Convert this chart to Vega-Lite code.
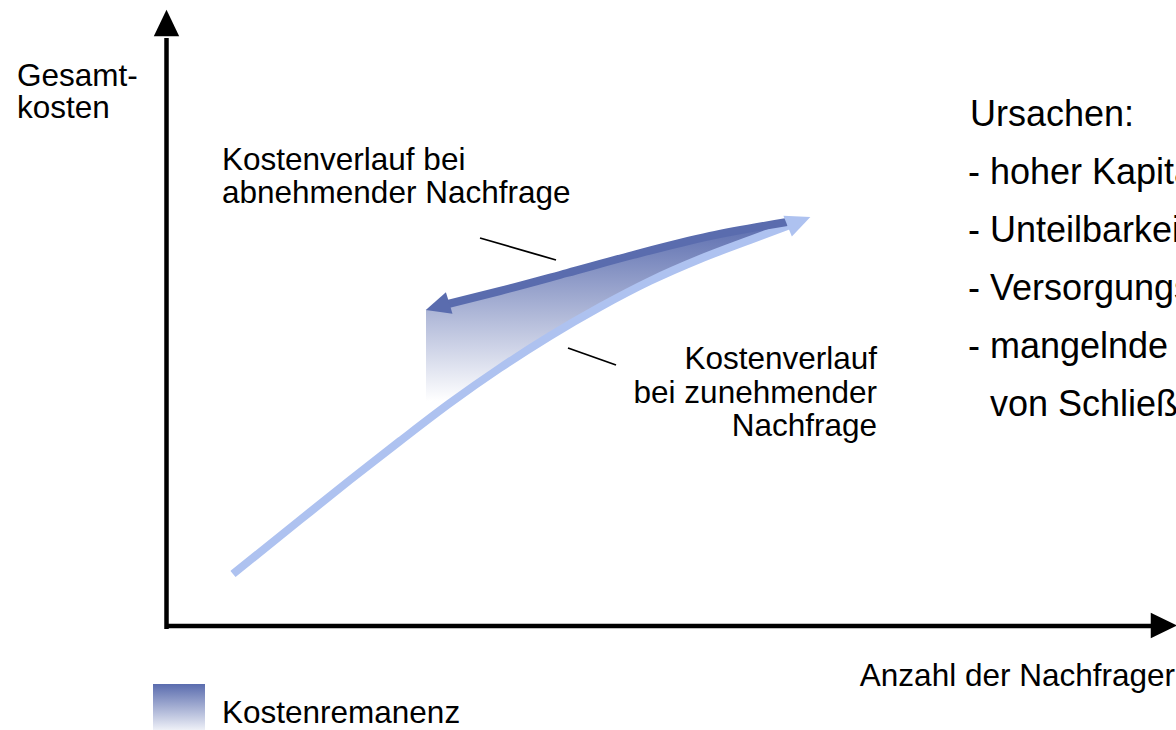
{
  "$schema": "https://vega.github.io/schema/vega-lite/v6.json",
  "width": 1176,
  "height": 730,
  "autosize": {"type": "fit", "contains": "padding"},
  "padding": 0,
  "background": "white",
  "config": {"view": {"stroke": null}},
  "datasets": {
    "remanenz": [
      {"q": 25.9, "oben": 31.6, "unten": 20.5},
      {"q": 28.3, "oben": 32.4, "unten": 22.3},
      {"q": 33.3, "oben": 33.4, "unten": 25.8},
      {"q": 38.3, "oben": 34.8, "unten": 29.0},
      {"q": 43.3, "oben": 36.3, "unten": 31.9},
      {"q": 48.3, "oben": 37.7, "unten": 34.5},
      {"q": 53.3, "oben": 38.9, "unten": 36.7},
      {"q": 58.3, "oben": 39.8, "unten": 38.6},
      {"q": 62.0, "oben": 40.4, "unten": 40.0}
    ],
    "kurven": [
      {"verlauf": "zunehmend", "q": 6.6, "k": 5.2},
      {"verlauf": "zunehmend", "q": 13.3, "k": 10.6},
      {"verlauf": "zunehmend", "q": 18.3, "k": 14.6},
      {"verlauf": "zunehmend", "q": 23.3, "k": 18.5},
      {"verlauf": "zunehmend", "q": 28.3, "k": 22.3},
      {"verlauf": "zunehmend", "q": 33.3, "k": 25.8},
      {"verlauf": "zunehmend", "q": 38.3, "k": 29.0},
      {"verlauf": "zunehmend", "q": 43.3, "k": 31.9},
      {"verlauf": "zunehmend", "q": 48.3, "k": 34.5},
      {"verlauf": "zunehmend", "q": 53.3, "k": 36.7},
      {"verlauf": "zunehmend", "q": 58.3, "k": 38.6},
      {"verlauf": "zunehmend", "q": 62.3, "k": 40.1},
      {"verlauf": "abnehmend", "q": 28.1, "k": 32.2},
      {"verlauf": "abnehmend", "q": 33.3, "k": 33.5},
      {"verlauf": "abnehmend", "q": 40.0, "k": 35.3},
      {"verlauf": "abnehmend", "q": 46.6, "k": 37.1},
      {"verlauf": "abnehmend", "q": 54.3, "k": 39.0},
      {"verlauf": "abnehmend", "q": 62.0, "k": 40.4}
    ],
    "spitzen": [
      {"verlauf": "zunehmend", "q": 63.2, "k": 40.45, "winkel": 68},
      {"verlauf": "abnehmend", "q": 27.05, "k": 31.95, "winkel": 253}
    ],
    "achsen": [
      {"achse": "K", "q": -0.05, "k": -0.3},
      {"achse": "K", "q": -0.05, "k": 58.8},
      {"achse": "N", "q": -0.2, "k": 0},
      {"achse": "N", "q": 98.8, "k": 0}
    ],
    "achsenspitzen": [
      {"achse": "K", "q": -0.05, "k": 60.3, "winkel": 0},
      {"achse": "N", "q": 99.7, "k": 0.05, "winkel": 90}
    ],
    "hinweise": [
      {"id": 1, "q": 31.3, "k": 38.8},
      {"id": 1, "q": 38.9, "k": 36.6},
      {"id": 2, "q": 40.1, "k": 27.8},
      {"id": 2, "q": 44.9, "k": 26.1}
    ],
    "legende": [
      {"q": -1.4, "q2": 3.8, "k": -5.8, "k2": -10.4}
    ],
    "texte_links": [
      {"text": "Gesamt-", "q": -15.0, "k": 54.0},
      {"text": "kosten", "q": -15.0, "k": 50.8},
      {"text": "Kostenverlauf bei", "q": 5.5, "k": 45.6},
      {"text": "abnehmender Nachfrage", "q": 5.5, "k": 42.3},
      {"text": "Kostenremanenz", "q": 5.5, "k": -9.7}
    ],
    "ursachen": [
      {"text": "Ursachen:", "q": 80.3, "k": 50.0},
      {"text": "- hoher Kapitalbedarf", "q": 80.1, "k": 44.2},
      {"text": "- Unteilbarkeit", "q": 80.1, "k": 38.4},
      {"text": "- Versorgungspflicht", "q": 80.1, "k": 32.6},
      {"text": "- mangelnde Möglichkeit", "q": 80.1, "k": 26.8},
      {"text": "von Schließung", "q": 82.3, "k": 21.0}
    ],
    "texte_rechts": [
      {"text": "Kostenverlauf", "q": 71.0, "k": 25.7},
      {"text": "bei zunehmender", "q": 71.0, "k": 22.3},
      {"text": "Nachfrage", "q": 71.0, "k": 19.0},
      {"text": "Anzahl der Nachfrager", "q": 100.8, "k": -6.0}
    ]
  },
  "encoding": {
    "x": {"field": "q", "type": "quantitative", "axis": null, "scale": {"domain": [-16.7, 100.9], "nice": false, "zero": false}},
    "y": {"field": "k", "type": "quantitative", "axis": null, "scale": {"domain": [-10.4, 62.6], "nice": false, "zero": false}}
  },
  "layer": [
    {
      "data": {"name": "remanenz"},
      "mark": {"type": "area", "interpolate": "monotone", "clip": true,
        "fill": {"gradient": "linear", "x1": 0, "y1": 0, "x2": 0, "y2": 1,
          "stops": [{"offset": 0, "color": "#5a6cae"}, {"offset": 0.9, "color": "#ffffff"}, {"offset": 1, "color": "#ffffff"}]}},
      "encoding": {
        "y": {"field": "oben", "type": "quantitative"},
        "y2": {"field": "unten"}
      }
    },
    {
      "data": {"name": "legende"},
      "mark": {"type": "rect", "clip": true,
        "fill": {"gradient": "linear", "x1": 0, "y1": 0, "x2": 0, "y2": 1,
          "stops": [{"offset": 0, "color": "#5a6cae"}, {"offset": 1, "color": "#eef0f7"}]}},
      "encoding": {
        "x2": {"field": "q2"},
        "y2": {"field": "k2"}
      }
    },
    {
      "data": {"name": "kurven"},
      "mark": {"type": "line", "interpolate": "monotone", "strokeWidth": 8, "clip": true},
      "encoding": {
        "color": {"field": "verlauf", "type": "nominal", "legend": null,
          "scale": {"domain": ["abnehmend", "zunehmend"], "range": ["#5a6cae", "#aec2f0"]}}
      }
    },
    {
      "data": {"name": "spitzen"},
      "mark": {"type": "point", "filled": true, "opacity": 1, "clip": true,
        "shape": "M0,-1L0.92,1L-0.92,1Z", "size": 600},
      "encoding": {
        "color": {"field": "verlauf", "type": "nominal", "legend": null,
          "scale": {"domain": ["abnehmend", "zunehmend"], "range": ["#5a6cae", "#aec2f0"]}},
        "angle": {"field": "winkel", "type": "quantitative", "scale": null}
      }
    },
    {
      "data": {"name": "achsen"},
      "mark": {"type": "line", "color": "black", "strokeWidth": 4.5, "clip": true},
      "encoding": {"detail": {"field": "achse", "type": "nominal"}}
    },
    {
      "data": {"name": "achsenspitzen"},
      "mark": {"type": "point", "filled": true, "opacity": 1, "color": "black", "clip": true,
        "shape": "M0,-1L0.96,1L-0.96,1Z", "size": 700},
      "encoding": {
        "angle": {"field": "winkel", "type": "quantitative", "scale": null}
      }
    },
    {
      "data": {"name": "hinweise"},
      "mark": {"type": "line", "color": "black", "strokeWidth": 1.8, "clip": true},
      "encoding": {"detail": {"field": "id", "type": "nominal"}}
    },
    {
      "data": {"name": "texte_links"},
      "mark": {"type": "text", "align": "left", "baseline": "alphabetic", "font": "Liberation Sans", "fontSize": 31.5, "color": "black", "clip": true},
      "encoding": {"text": {"field": "text", "type": "nominal"}}
    },
    {
      "data": {"name": "ursachen"},
      "mark": {"type": "text", "align": "left", "baseline": "alphabetic", "font": "Liberation Sans", "fontSize": 36, "color": "black", "clip": true},
      "encoding": {"text": {"field": "text", "type": "nominal"}}
    },
    {
      "data": {"name": "texte_rechts"},
      "mark": {"type": "text", "align": "right", "baseline": "alphabetic", "font": "Liberation Sans", "fontSize": 31.5, "color": "black", "clip": true},
      "encoding": {"text": {"field": "text", "type": "nominal"}}
    }
  ]
}
